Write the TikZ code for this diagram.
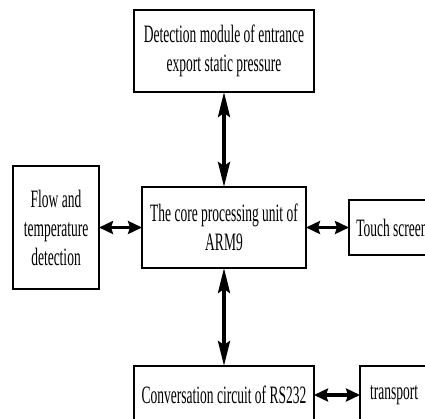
\documentclass[tikz,border=0pt]{standalone}
\usepackage{fontspec}
\setmainfont[FakeStretch=0.54]{Liberation Serif}
\usetikzlibrary{arrows.meta, positioning}

\begin{document}
\begin{tikzpicture}[x=1pt,y=-1pt,every node/.style={outer sep=0pt}]
\tikzstyle{block}=[draw,line width=2.8pt,align=center,inner sep=0pt,font=\fontsize{25}{29}\selectfont]

\tikzstyle{link}=[line width=3.6pt,{Stealth[length=14pt,width=13pt,inset=2pt]}-{Stealth[length=14pt,width=13pt,inset=2pt]}]
\tikzstyle{vlink}=[line width=3.6pt,{Stealth[length=25pt,width=12pt,inset=4pt]}-{Stealth[length=25pt,width=12pt,inset=4pt]}]

\useasboundingbox (0,0) rectangle (425,419);
\clip (0,0) rectangle (425,419);

\node (core) [block, minimum width=164pt, minimum height=81pt] at (224,227.5) {The core processing unit of\\ARM9};

\node (detect) [block, minimum width=180pt, minimum height=82pt, above=95pt of core] {Detection module of entrance\\export static pressure};
\node (flow) [block, minimum width=86pt, minimum height=123pt, left=43pt of core] {Flow and\\temperature\\detection};
\node (touch) [block, minimum width=86pt, minimum height=55pt, right=43pt of core] {Touch screen};
\node (rs) [block, minimum width=180pt, minimum height=58pt, below=98pt of core] {Conversation circuit of RS232};
\node (trans) [block, minimum width=68pt, minimum height=58pt, right=46pt of rs] {transport};

\draw [vlink] (detect) -- (core);
\draw [vlink] (core) -- (rs);
\draw [link] (flow) -- (core);
\draw [link] (core) -- (touch);
\draw [link] (rs) -- (trans);

\end{tikzpicture}
\end{document}
